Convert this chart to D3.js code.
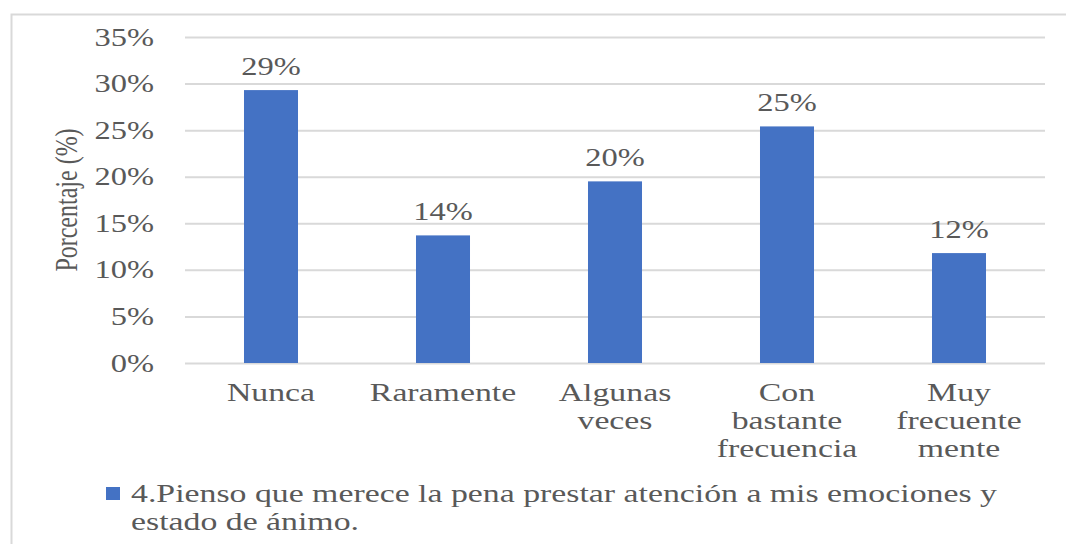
<!DOCTYPE html>
<html>
<head>
<meta charset="utf-8">
<script src="https://cdn.jsdelivr.net/npm/d3@7"></script>
<style>
  body { margin: 0; background: #fff; }
</style>
</head>
<body>
<svg id="chart" width="1066" height="544"></svg>
<script>
// data
const categories = ['Nunca', 'Raramente', 'Algunas veces', 'Con bastante frecuencia', 'Muy frecuente mente']
const categoryLines = [['Nunca'], ['Raramente'], ['Algunas', 'veces'], ['Con', 'bastante', 'frecuencia'], ['Muy', 'frecuente', 'mente']]
const values = [0.293, 0.137, 0.195, 0.254, 0.118]
const valueLabels = ['29%', '14%', '20%', '25%', '12%']
const yTicks = [0, 0.05, 0.10, 0.15, 0.20, 0.25, 0.30, 0.35]
const legendLines = ['4.Pienso que merece la pena prestar atención a mis emociones y', 'estado de ánimo.']
const yTitle = 'Porcentaje (%)'

// the reference text is stretched horizontally
const SX = 1.3
const FONT = "'Liberation Serif', 'Times New Roman', serif"
const GREY = '#595959'

const svg = d3.select('#chart')

/**
 * Applies the common text look
 *
 * @param {*} sel the d3 selection of texts
 * @param {number} size font size in px
 */
function textStyle (sel, size) {
  sel.style('font-family', FONT)
    .style('font-size', size + 'px')
    .style('fill', GREY)
}

// outer frame (only top and left edges visible)
svg.append('path')
  .attr('d', 'M11.5,560 V14.5 H1080')
  .attr('fill', 'none')
  .attr('stroke', '#d9d9d9')
  .attr('stroke-width', 2)

const x = d3.scaleBand()
  .domain(categories)
  .range([185, 1045])
  .paddingInner(0.686)
  .paddingOuter(0.343)

const y = d3.scaleLinear()
  .domain([0, 0.35])
  .range([363, 37])

// gridlines + y ticks
const yAxis = svg.append('g')
  .attr('transform', 'translate(185,0)')
  .call(d3.axisLeft(y).tickValues(yTicks).tickSize(-860).tickFormat(d3.format('.0%')))
yAxis.select('.domain').remove()
yAxis.selectAll('.tick line').attr('stroke', '#d9d9d9').attr('stroke-width', 2)
yAxis.selectAll('.tick text')
  .attr('x', -31 / SX)
  .attr('dy', '0.32em')
  .attr('transform', `scale(${SX},1)`)
  .call(textStyle, 25)

// bars
svg.append('g').selectAll('rect')
  .data(values)
  .join('rect')
  .attr('x', (d, i) => x(categories[i]))
  .attr('y', d => y(d))
  .attr('width', x.bandwidth())
  .attr('height', d => y(0) - y(d))
  .attr('fill', '#4472c4')

// value labels
svg.append('g').selectAll('g')
  .data(values)
  .join('g')
  .attr('transform', (d, i) => `translate(${x(categories[i]) + x.bandwidth() / 2},${y(d) - 15}) scale(${SX},1)`)
  .append('text')
  .attr('text-anchor', 'middle')
  .call(textStyle, 25)
  .text((d, i) => valueLabels[i])

// category labels
const xl = svg.append('g').selectAll('g')
  .data(categories)
  .join('g')
  .attr('transform', d => `translate(${x(d) + x.bandwidth() / 2},401) scale(${SX},1)`)
  .append('text')
  .attr('text-anchor', 'middle')
  .call(textStyle, 26)
xl.selectAll('tspan')
  .data((d, i) => categoryLines[i])
  .join('tspan')
  .attr('x', 0)
  .attr('dy', (d, i) => i === 0 ? 0 : 28)
  .text(d => d)

// y title
svg.append('g')
  .attr('transform', `translate(77,200) rotate(-90) scale(1,${SX})`)
  .append('text')
  .attr('text-anchor', 'middle')
  .call(textStyle, 24)
  .text(yTitle)

// legend
svg.append('rect')
  .attr('x', 106)
  .attr('y', 487)
  .attr('width', 14)
  .attr('height', 13)
  .attr('fill', '#4472c4')

const lg = svg.append('g')
  .attr('transform', `translate(131,502) scale(${SX},1)`)
  .append('text')
  .call(textStyle, 26)
lg.selectAll('tspan')
  .data(legendLines)
  .join('tspan')
  .attr('x', 0)
  .attr('dy', (d, i) => i === 0 ? 0 : 28)
  .text(d => d)
</script>
</body>
</html>
